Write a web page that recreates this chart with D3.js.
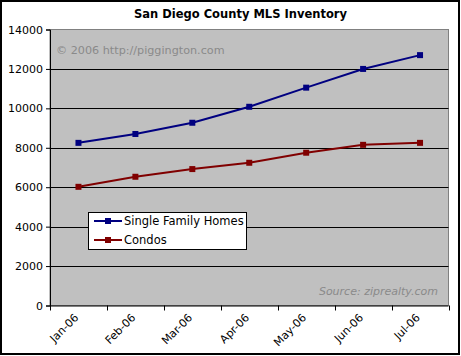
<!DOCTYPE html>
<html><head><meta charset="utf-8">
<script src="https://cdn.jsdelivr.net/npm/d3@7"></script>
<style>body{margin:0;background:#fff}svg{display:block}text{font-family:"DejaVu Sans",Verdana,sans-serif}</style>
</head><body>
<svg id="c" width="461" height="356"></svg>
<script>
const months = ["Jan-06","Feb-06","Mar-06","Apr-06","May-06","Jun-06","Jul-06"];
const singleFamily = [8250, 8700, 9270, 10080, 11050, 12000, 12700];
const condos = [6020, 6530, 6920, 7240, 7750, 8150, 8250];
const yTicks = [0,2000,4000,6000,8000,10000,12000,14000];
const seriesNames = ["Single Family Homes","Condos"];
const seriesColors = ["#000080","#800000"];

const svg = d3.select("#c");
const W=461,H=356;
const m={l:50,r:448.5,t:29.5,b:305.5};
svg.append("rect").attr("x",1).attr("y",1).attr("width",W-3).attr("height",H-3).attr("fill","#fff").attr("stroke","#000").attr("stroke-width",2);

const x = d3.scaleBand().domain(months).range([m.l,m.r]);
const y = d3.scaleLinear().domain([0,14000]).range([m.b,m.t]);

svg.append("rect").attr("x",m.l).attr("y",m.t).attr("width",m.r-m.l).attr("height",m.b-m.t).attr("fill","#c0c0c0").attr("stroke","#808080");

svg.append("g").selectAll("line").data(yTicks.slice(1,-1)).join("line")
 .attr("x1",m.l).attr("x2",m.r).attr("y1",d=>Math.round(y(d))+0.5).attr("y2",d=>Math.round(y(d))+0.5).attr("stroke","#000");

svg.append("text").attr("x",56).attr("y",54).attr("fill","#8a8a8a").attr("font-size",11.2).text("© 2006 http://piggington.com");
svg.append("text").attr("x",438).attr("y",295).attr("fill","#8a8a8a").attr("font-size",11).attr("font-style","italic").attr("text-anchor","end").text("Source: ziprealty.com");

// y axis
const ya = svg.append("g").attr("transform",`translate(${m.l},0)`).call(d3.axisLeft(y).tickValues(yTicks).tickFormat(d3.format("d")).tickSize(4).tickPadding(3));
ya.selectAll("text").attr("font-size",11).attr("fill","#000").style("font-family","DejaVu Sans");
ya.select(".domain").attr("stroke","#000");
// x axis
const xa = svg.append("g").attr("transform",`translate(0,${m.b})`);
xa.append("line").attr("x1",m.l).attr("x2",m.r).attr("y1",0.5).attr("y2",0.5).attr("stroke","#000");
const bounds = months.map(d=>x(d)).concat([m.r]);
xa.selectAll("line.t").data(bounds).join("line").attr("class","t").attr("x1",d=>Math.round(d)+0.5).attr("x2",d=>Math.round(d)+0.5).attr("y1",0).attr("y2",5).attr("stroke","#000");
xa.selectAll("text").data(months).join("text")
 .attr("transform",d=>`translate(${x(d)+x.bandwidth()/2-2},10) rotate(-45)`)
 .attr("text-anchor","end").attr("dy","0.35em").attr("font-size",11).text(d=>d);

const data=[singleFamily,condos];
const line=d3.line().x((d,i)=>x(months[i])+x.bandwidth()/2).y(d=>y(d));
data.forEach((s,k)=>{
  svg.append("path").attr("d",line(s)).attr("fill","none").attr("stroke",seriesColors[k]).attr("stroke-width",2);
  svg.append("g").selectAll("rect").data(s).join("rect")
   .attr("x",(d,i)=>x(months[i])+x.bandwidth()/2-3).attr("y",d=>y(d)-3).attr("width",6).attr("height",6).attr("fill",seriesColors[k]);
});

svg.append("text").attr("x",240.5).attr("y",18).attr("text-anchor","middle").attr("font-size",11.5).attr("font-weight","bold").text("San Diego County MLS Inventory");

// legend
const lg=svg.append("g");
lg.append("rect").attr("x",88.5).attr("y",212.5).attr("width",158).attr("height",37).attr("fill","#fff").attr("stroke","#000");
seriesNames.forEach((n,k)=>{
  const yy=221+k*19;
  lg.append("line").attr("x1",94).attr("x2",122).attr("y1",yy).attr("y2",yy).attr("stroke",seriesColors[k]).attr("stroke-width",2);
  lg.append("rect").attr("x",105).attr("y",yy-3).attr("width",6).attr("height",6).attr("fill",seriesColors[k]);
  lg.append("text").attr("x",124).attr("y",yy).attr("dy","0.35em").attr("font-size",11.5).text(n);
});
</script>
</body></html>
